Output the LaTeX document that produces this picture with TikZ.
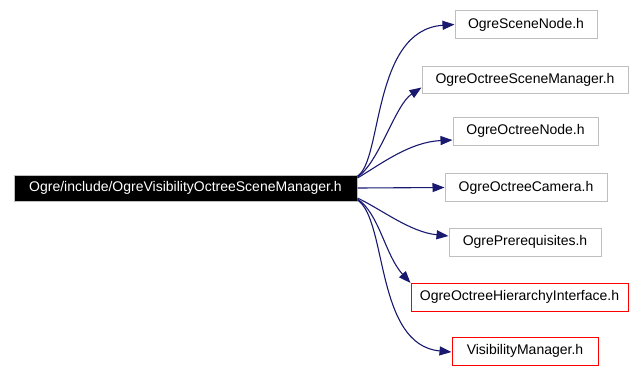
\documentclass[tikz,border=0pt]{standalone}
\usepackage{fontspec}
\setmainfont{Liberation Sans}
\usetikzlibrary{arrows.meta}
\definecolor{edgec}{HTML}{191970}
\definecolor{boxg}{HTML}{BFBFBF}
\tikzset{
  file/.style={draw=boxg, line width=1pt, fill=white, inner sep=0pt, minimum height=28pt, font=\fontsize{14}{16}\selectfont},
  redfile/.style={file, draw=red},
  mainfile/.style={draw=boxg, line width=1pt, fill=black, text=white, inner sep=0pt, minimum height=26pt, font=\fontsize{14}{16}\selectfont},
  dep/.style={draw=edgec, line width=1.1pt, -{Stealth[length=12pt,width=9pt,inset=0pt]}},
}
\begin{document}
\begin{tikzpicture}[x=1pt,y=-1pt]
\useasboundingbox (0,0) rectangle (629,365);
\node[mainfile, minimum width=343pt] (main) at (185.5,188) {Ogre/include/OgreVisibilityOctreeSceneManager.h};
\node[file, minimum width=142pt] (n1) at (526,24.5) {OgreSceneNode.h};
\node[file, minimum width=206pt, minimum height=27pt] (n2) at (525,79.5) {OgreOctreeSceneManager.h};
\node[file, minimum width=145pt] (n3) at (525.5,131) {OgreOctreeNode.h};
\node[file, minimum width=162pt] (n4) at (526,187.5) {OgreOctreeCamera.h};
\node[file, minimum width=152pt] (n5) at (525,242) {OgrePrerequisites.h};
\node[redfile, minimum width=217pt] (n6) at (519.5,297) {OgreOctreeHierarchyInterface.h};
\node[redfile, minimum width=146pt] (n7) at (525,351) {VisibilityManager.h};

\draw[dep] ([yshift=12pt]main.east) .. controls +(25,-15) and (372,30) .. (n1.west);
\draw[dep] ([yshift=11pt]main.east) .. controls +(22,-15) and (395,105) .. ([yshift=-8pt]n2.west);
\draw[dep] ([yshift=10pt]main.east) .. controls +(25,-15) and (410,142) .. ([yshift=-9pt]n3.west);
\draw[dep] (main.east) -- (n4.west);
\draw[dep] ([yshift=-10pt]main.east) .. controls +(25,12) and (410,232) .. ([yshift=6pt]n5.west);
\draw[dep] ([yshift=-11pt]main.east) .. controls +(22,15) and (385,255) .. ([yshift=14pt]n6.west);
\draw[dep] ([yshift=-12pt]main.east) .. controls +(30,20) and (375,345) .. ([yshift=-1pt]n7.west);
\end{tikzpicture}
\end{document}
